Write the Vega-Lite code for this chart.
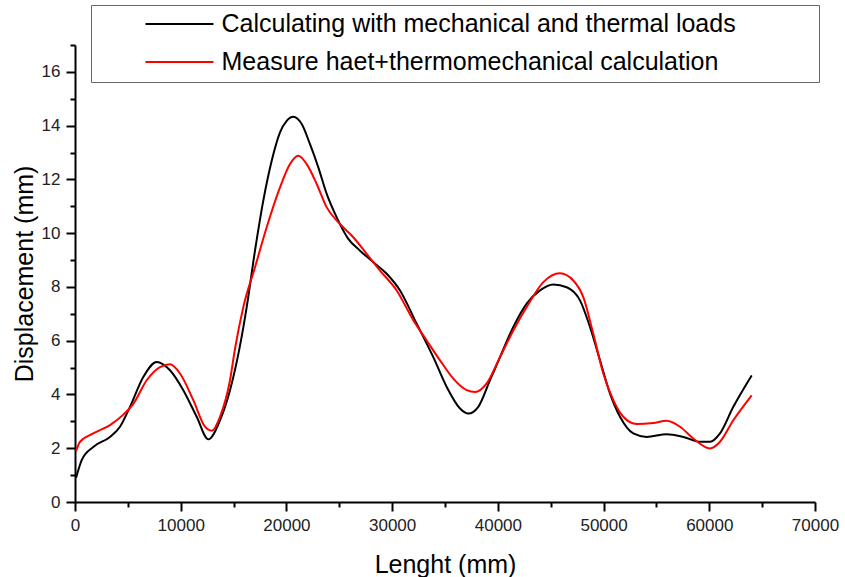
{
  "$schema": "https://vega.github.io/schema/vega-lite/v6.json",
  "width": 740,
  "height": 457,
  "autosize": {"type": "none"},
  "padding": {"top": 45, "left": 75, "right": 30, "bottom": 75},
  "background": "white",
  "config": {"view": {"stroke": null}, "font": "Liberation Sans"},
  "datasets": {
    "black": [
      {"x": 100, "y": 0.9}, {"x": 634, "y": 1.56}, {"x": 1731, "y": 2.05}, {"x": 3311, "y": 2.42}, {"x": 4257, "y": 2.8}, {"x": 5203, "y": 3.54}, {"x": 6460, "y": 4.65}, {"x": 7728, "y": 5.21}, {"x": 8986, "y": 4.9}, {"x": 10244, "y": 4.16}, {"x": 11512, "y": 3.17}, {"x": 12609, "y": 2.33}, {"x": 13716, "y": 3.04}, {"x": 14662, "y": 4.16}, {"x": 15600, "y": 5.8}, {"x": 16242, "y": 7.25}, {"x": 17027, "y": 9.35}, {"x": 17812, "y": 11.21}, {"x": 18607, "y": 12.69}, {"x": 19392, "y": 13.75}, {"x": 20026, "y": 14.18}, {"x": 20650, "y": 14.33}, {"x": 21445, "y": 14.06}, {"x": 22230, "y": 13.31}, {"x": 23015, "y": 12.45}, {"x": 23810, "y": 11.46}, {"x": 24755, "y": 10.59}, {"x": 25853, "y": 9.79}, {"x": 26960, "y": 9.35}, {"x": 28218, "y": 8.92}, {"x": 29485, "y": 8.49}, {"x": 30743, "y": 7.87}, {"x": 32323, "y": 6.63}, {"x": 33893, "y": 5.39}, {"x": 35161, "y": 4.28}, {"x": 36419, "y": 3.48}, {"x": 37204, "y": 3.29}, {"x": 38150, "y": 3.54}, {"x": 39257, "y": 4.53}, {"x": 40203, "y": 5.39}, {"x": 41461, "y": 6.51}, {"x": 42728, "y": 7.38}, {"x": 43986, "y": 7.87}, {"x": 45244, "y": 8.09}, {"x": 46512, "y": 7.99}, {"x": 47770, "y": 7.5}, {"x": 48716, "y": 6.51}, {"x": 49662, "y": 5.27}, {"x": 50608, "y": 4.03}, {"x": 51554, "y": 3.17}, {"x": 52812, "y": 2.55}, {"x": 54080, "y": 2.42}, {"x": 55972, "y": 2.52}, {"x": 57542, "y": 2.42}, {"x": 59122, "y": 2.24}, {"x": 60068, "y": 2.24}, {"x": 61014, "y": 2.55}, {"x": 62272, "y": 3.54}, {"x": 64013, "y": 4.71}
    ],
    "red": [
      {"x": 100, "y": 1.9}, {"x": 473, "y": 2.24}, {"x": 1731, "y": 2.55}, {"x": 3311, "y": 2.86}, {"x": 4569, "y": 3.25}, {"x": 5514, "y": 3.65}, {"x": 6782, "y": 4.53}, {"x": 8040, "y": 5.02}, {"x": 8986, "y": 5.12}, {"x": 9932, "y": 4.78}, {"x": 11190, "y": 3.79}, {"x": 12297, "y": 2.8}, {"x": 12931, "y": 2.65}, {"x": 13716, "y": 3.17}, {"x": 14662, "y": 4.53}, {"x": 15135, "y": 5.7}, {"x": 15920, "y": 7.25}, {"x": 17027, "y": 8.73}, {"x": 18134, "y": 10.22}, {"x": 19392, "y": 11.7}, {"x": 20338, "y": 12.57}, {"x": 21123, "y": 12.88}, {"x": 21918, "y": 12.57}, {"x": 22864, "y": 11.83}, {"x": 23810, "y": 10.96}, {"x": 25068, "y": 10.34}, {"x": 26326, "y": 9.85}, {"x": 27594, "y": 9.23}, {"x": 28852, "y": 8.61}, {"x": 30431, "y": 7.87}, {"x": 32000, "y": 6.76}, {"x": 33268, "y": 6.01}, {"x": 34527, "y": 5.27}, {"x": 35785, "y": 4.59}, {"x": 37052, "y": 4.16}, {"x": 37838, "y": 4.09}, {"x": 38945, "y": 4.41}, {"x": 40203, "y": 5.39}, {"x": 41461, "y": 6.38}, {"x": 42728, "y": 7.25}, {"x": 44298, "y": 8.18}, {"x": 45878, "y": 8.51}, {"x": 47136, "y": 8.24}, {"x": 48082, "y": 7.62}, {"x": 49028, "y": 6.26}, {"x": 49974, "y": 4.78}, {"x": 50920, "y": 3.79}, {"x": 51866, "y": 3.17}, {"x": 53133, "y": 2.9}, {"x": 54704, "y": 2.94}, {"x": 55972, "y": 3.02}, {"x": 57230, "y": 2.8}, {"x": 58488, "y": 2.36}, {"x": 60068, "y": 1.99}, {"x": 61014, "y": 2.24}, {"x": 62272, "y": 3.04}, {"x": 64013, "y": 3.97}
    ]
  },
  "layer": [
    {
      "data": {"name": "black"},
      "transform": [{"calculate": "'Calculating with mechanical and thermal loads'", "as": "series"}],
      "mark": {"type": "line", "interpolate": "monotone", "strokeWidth": 2},
      "encoding": {
        "x": {"field": "x", "type": "quantitative"},
        "y": {"field": "y", "type": "quantitative"},
        "color": {"field": "series", "type": "nominal"}
      }
    },
    {
      "data": {"name": "red"},
      "transform": [{"calculate": "'Measure haet+thermomechanical calculation'", "as": "series"}],
      "mark": {"type": "line", "interpolate": "monotone", "strokeWidth": 2},
      "encoding": {
        "x": {"field": "x", "type": "quantitative"},
        "y": {"field": "y", "type": "quantitative"},
        "color": {"field": "series", "type": "nominal"}
      }
    }
  ],
  "encoding": {
    "x": {
      "field": "x", "type": "quantitative",
      "scale": {"domain": [0, 70000], "nice": false, "zero": false},
      "axis": {
        "title": "Lenght (mm)",
        "values": [0, 5000, 10000, 15000, 20000, 25000, 30000, 35000, 40000, 45000, 50000, 55000, 60000, 65000, 70000],
        "labelExpr": "datum.value % 10000 === 0 ? datum.value : ''",
        "grid": false,
        "domainColor": "black", "domainWidth": 2,
        "tickColor": "black", "tickWidth": 2,
        "tickSize": {"condition": {"test": "datum.value % 10000 === 0", "value": 9}, "value": 5},
        "labelPadding": 6,
        "labelFont": "Liberation Sans", "labelFontSize": 17, "labelColor": "#222",
        "labelFlush": false, "labelOverlap": false,
        "titleFont": "Liberation Sans", "titleFontSize": 25, "titleFontWeight": "normal", "titleColor": "black",
        "titlePadding": 19
      }
    },
    "y": {
      "field": "y", "type": "quantitative",
      "scale": {"domain": [0, 17], "nice": false},
      "axis": {
        "title": "Displacement (mm)",
        "values": [0, 1, 2, 3, 4, 5, 6, 7, 8, 9, 10, 11, 12, 13, 14, 15, 16, 17],
        "labelExpr": "datum.value % 2 === 0 ? datum.value : ''",
        "grid": false,
        "domainColor": "black", "domainWidth": 2,
        "tickColor": "black", "tickWidth": 2,
        "tickSize": {"condition": {"test": "datum.value % 2 === 0", "value": 9}, "value": 5},
        "labelPadding": 6,
        "labelFont": "Liberation Sans", "labelFontSize": 17, "labelColor": "#222",
        "labelFlush": false, "labelOverlap": false,
        "titleFont": "Liberation Sans", "titleFontSize": 25, "titleFontWeight": "normal", "titleColor": "black",
        "titlePadding": 4
      }
    },
    "color": {
      "field": "series", "type": "nominal",
      "scale": {
        "domain": ["Calculating with mechanical and thermal loads", "Measure haet+thermomechanical calculation"],
        "range": ["#000000", "#ff0000"]
      },
      "legend": {
        "title": null,
        "orient": "none",
        "legendX": 16,
        "legendY": -40,
        "padding": 6.5,
        "fillColor": "white",
        "strokeColor": "#666",
        "symbolType": "stroke",
        "symbolSize": 4624,
        "symbolStrokeWidth": 2,
        "symbolOffset": 47,
        "labelOffset": 7,
        "clipHeight": 25,
        "rowPadding": 12,
        "labelFont": "Liberation Sans",
        "labelFontSize": 25,
        "labelColor": "black",
        "labelLimit": 1000,
        "labelExpr": "datum.label + '\u00a0\u00a0\u00a0\u00a0\u00a0\u00a0\u00a0\u00a0\u00a0\u00a0\u00a0\u200b'"
      }
    }
  }
}
